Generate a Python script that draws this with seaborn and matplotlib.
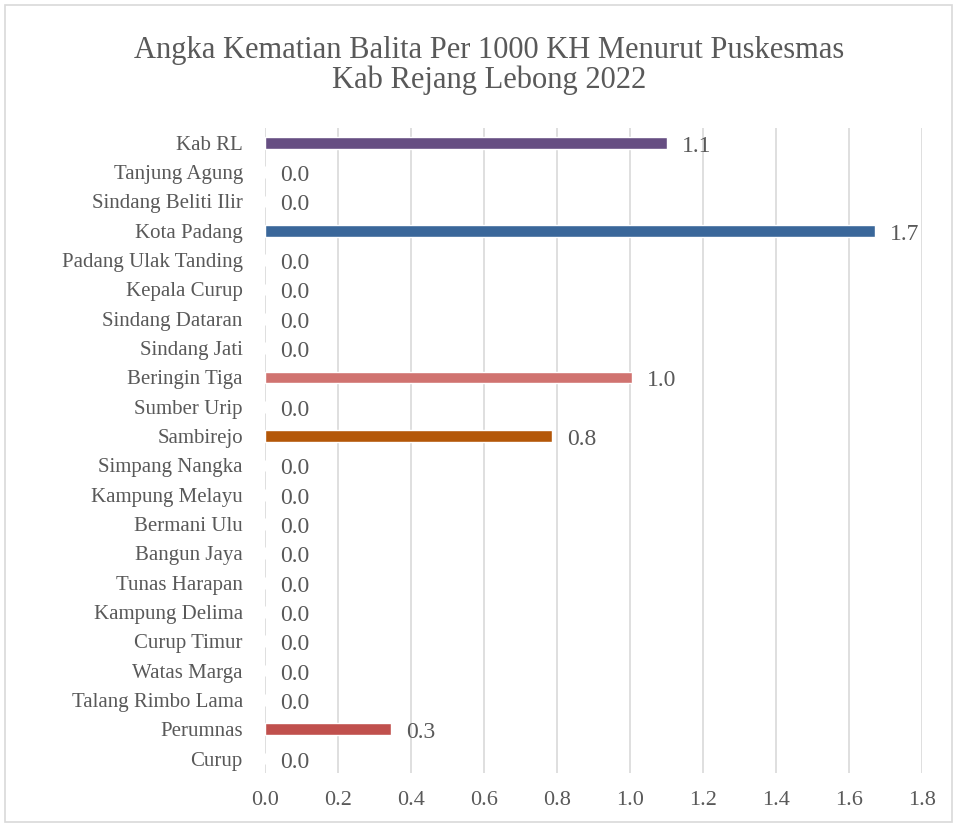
import matplotlib
matplotlib.use("Agg")
import matplotlib.pyplot as plt
import seaborn as sns
import pandas as pd

puskesmas = ['Kab RL', 'Tanjung Agung', 'Sindang Beliti Ilir', 'Kota Padang',
             'Padang Ulak Tanding', 'Kepala Curup', 'Sindang Dataran', 'Sindang Jati',
             'Beringin Tiga', 'Sumber Urip', 'Sambirejo', 'Simpang Nangka',
             'Kampung Melayu', 'Bermani Ulu', 'Bangun Jaya', 'Tunas Harapan',
             'Kampung Delima', 'Curup Timur', 'Watas Marga', 'Talang Rimbo Lama',
             'Perumnas', 'Curup']
nilai = [1.10, 0, 0, 1.67, 0, 0, 0, 0, 1.005, 0, 0.785, 0, 0, 0, 0, 0, 0, 0, 0, 0, 0.345, 0]
warna = ['#664E82', '#4472C4', '#4472C4', '#3A679A', '#4472C4', '#4472C4', '#4472C4',
         '#4472C4', '#D07370', '#4472C4', '#B45708', '#4472C4', '#4472C4', '#4472C4',
         '#4472C4', '#4472C4', '#4472C4', '#4472C4', '#4472C4', '#4472C4', '#C0504D', '#4472C4']
xticks = [0.0, 0.2, 0.4, 0.6, 0.8, 1.0, 1.2, 1.4, 1.6, 1.8]

df = pd.DataFrame({'puskesmas': puskesmas, 'nilai': nilai})

sns.set_style('white')
plt.rcParams['font.family'] = ['Liberation Serif', 'DejaVu Serif']
txt = '#595959'

fig = plt.figure(figsize=(9.57, 8.27), dpi=100)
ax = fig.add_axes([0.277, 0.065, 0.6865, 0.78])

sns.barplot(data=df, x='nilai', y='puskesmas', hue='puskesmas', palette=warna,
            legend=False, width=0.4, orient='h', ax=ax, saturation=1)

# label nilai di ujung batang
for c in ax.containers:
    for bar in c:
        w = bar.get_width()
        yc = bar.get_y() + bar.get_height() / 2
        ax.annotate(f'{w:.1f}', xy=(w, yc), xytext=(11, -2.5), textcoords='offset points',
                    va='center', ha='left', fontsize=17, color=txt)

ax.set_xlim(0, 1.8)
ax.set_xticks(xticks)
ax.set_xticklabels([f'{t:.1f}' for t in xticks])
ax.set_ylim(len(puskesmas) - 0.5, -0.5)
ax.grid(axis='x', color='#D9D9D9', linewidth=1.2)
ax.set_axisbelow(True)
for s in ax.spines.values():
    s.set_visible(False)
ax.tick_params(axis='y', length=0, pad=16, labelsize=15, labelcolor=txt)
ax.tick_params(axis='x', length=0, pad=13, labelsize=16, labelcolor=txt)
ax.set_xlabel('')
ax.set_ylabel('')

fig.text(0.511, 0.921, 'Angka Kematian Balita Per 1000 KH Menurut Puskesmas\nKab Rejang Lebong 2022',
         ha='center', va='center', fontsize=22, color=txt, linespacing=1.05)

fig.patches.append(plt.Rectangle((0.005, 0.006), 0.99, 0.988, transform=fig.transFigure,
                                 fill=False, edgecolor='#D9D9D9', linewidth=1.2))

fig.savefig('out.png', dpi=100)
